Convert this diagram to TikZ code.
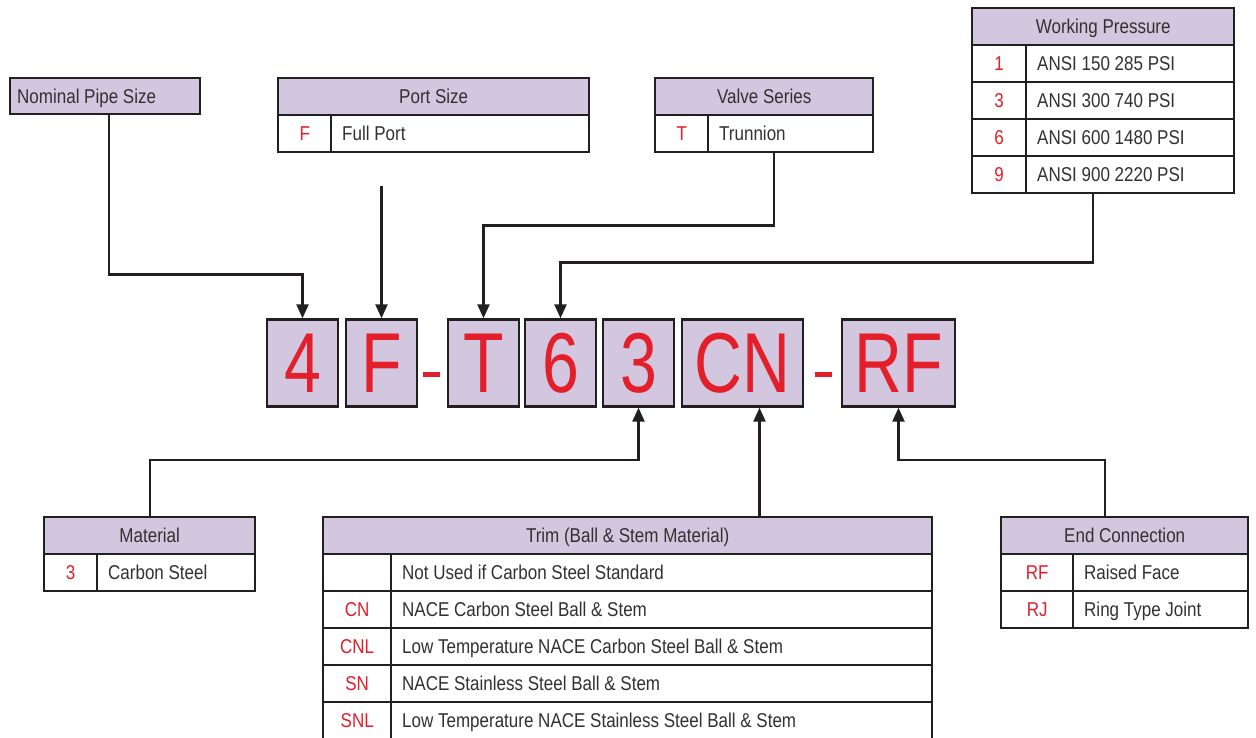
\documentclass[tikz,border=0pt]{standalone}
\usepackage{fontspec}
\setmainfont[FakeStretch=0.85]{Liberation Sans}
\newfontfamily\codefont[FakeStretch=0.78]{Liberation Sans}
\usetikzlibrary{arrows.meta}
\definecolor{lav}{HTML}{D3C7E0}
\definecolor{cred}{HTML}{E21F2A}
\definecolor{ink}{HTML}{231F20}
\definecolor{txt}{HTML}{333031}
\tikzset{
  cell/.style={draw=ink, line width=2.4pt, inner sep=0pt, anchor=north west, minimum height=37pt,
    text height=17pt, text depth=2.7pt, font=\fontsize{20}{20}\selectfont},
  hdr/.style={cell, fill=lav, text=txt},
  keycell/.style={cell, fill=white, text=cred},
  valcell/.style={cell, fill=white, text=txt, inner xsep=11pt, align=flush left},
  codebox/.style={draw=ink, line width=2.4pt, fill=lav, inner sep=0pt, minimum height=87pt,
    text=cred, font=\codefont\fontsize{85}{85}\selectfont},
  dashbar/.style={fill=cred, inner sep=0pt, minimum width=17pt, minimum height=5pt},
  conn/.style={draw=ink, line width=2.4pt, -{Triangle[length=14pt,width=12pt]}}
}
\begin{document}
\begin{tikzpicture}[x=1pt,y=-1pt]
\useasboundingbox (0,0) rectangle (1256,737);
% code boxes
\node[codebox, minimum width=71pt] (c4) at (302.5,363) {4};
\node[codebox, minimum width=71pt] (cF) at (381.5,363) {F};
\node[dashbar] (d1) at (431.5,374) {};
\node[codebox, minimum width=71pt] (cT) at (483.5,363) {T};
\node[codebox, minimum width=71pt] (c6) at (560.5,363) {6};
\node[codebox, minimum width=71pt] (c3) at (638.5,363) {3};
\node[codebox, minimum width=121pt] (cCN) at (742.5,363) {CN};
\node[dashbar] (d2) at (823.5,374) {};
\node[codebox, minimum width=113pt] (cRF) at (898.5,363) {RF};
% Nominal pipe size
\node[hdr, minimum width=190pt, minimum height=36pt, text width=176pt, inner xsep=7pt, align=flush left] (nps) at (9,77) {Nominal Pipe Size};
% Port size
\node[hdr, minimum width=311pt] (psh) at (277,77) {Port Size};
\node[keycell, minimum width=53pt] (psk) at (277,114) {F};
\node[valcell, text width=236pt] (psv) at (330,114) {Full Port};
% Valve series
\node[hdr, minimum width=218pt] (vsh) at (654,77) {Valve Series};
\node[keycell, minimum width=53pt] (vsk) at (654,114) {T};
\node[valcell, text width=143pt] (vsv) at (707,114) {Trunnion};
% Working pressure
\node[hdr, minimum width=262pt] (wph) at (971,7) {Working Pressure};
\node[keycell, minimum width=54pt] (wp1k) at (971,44) {1};
\node[valcell, text width=186pt] (wp1v) at (1025,44) {ANSI 150 285 PSI};
\node[keycell, minimum width=54pt] (wp3k) at (971,81) {3};
\node[valcell, text width=186pt] (wp3v) at (1025,81) {ANSI 300 740 PSI};
\node[keycell, minimum width=54pt] (wp6k) at (971,118) {6};
\node[valcell, text width=186pt] (wp6v) at (1025,118) {ANSI 600 1480 PSI};
\node[keycell, minimum width=54pt] (wp9k) at (971,155) {9};
\node[valcell, text width=186pt] (wp9v) at (1025,155) {ANSI 900 2220 PSI};
% Material
\node[hdr, minimum width=211pt] (math) at (43,516) {Material};
\node[keycell, minimum width=53pt] (matk) at (43,553) {3};
\node[valcell, text width=136pt] (matv) at (96,553) {Carbon Steel};
% Trim
\node[hdr, minimum width=609pt] (trh) at (322,516) {Trim (Ball \& Stem Material)};
\node[keycell, minimum width=68pt] (tr0k) at (322,553) {};
\node[valcell, text width=519pt] (tr0v) at (390,553) {Not Used if Carbon Steel Standard};
\node[keycell, minimum width=68pt] (tr1k) at (322,590) {CN};
\node[valcell, text width=519pt] (tr1v) at (390,590) {NACE Carbon Steel Ball \& Stem};
\node[keycell, minimum width=68pt] (tr2k) at (322,627) {CNL};
\node[valcell, text width=519pt] (tr2v) at (390,627) {Low Temperature NACE Carbon Steel Ball \& Stem};
\node[keycell, minimum width=68pt] (tr3k) at (322,664) {SN};
\node[valcell, text width=519pt] (tr3v) at (390,664) {NACE Stainless Steel Ball \& Stem};
\node[keycell, minimum width=68pt] (tr4k) at (322,701) {SNL};
\node[valcell, text width=519pt] (tr4v) at (390,701) {Low Temperature NACE Stainless Steel Ball \& Stem};
% End connection
\node[hdr, minimum width=247pt] (ech) at (1000,516) {End Connection};
\node[keycell, minimum width=72pt] (ec1k) at (1000,553) {RF};
\node[valcell, text width=153pt] (ec1v) at (1072,553) {Raised Face};
\node[keycell, minimum width=72pt] (ec2k) at (1000,590) {RJ};
\node[valcell, text width=153pt] (ec2v) at (1072,590) {Ring Type Joint};
% connectors
\coordinate (pf) at (381.5,186);
\coordinate (trtip) at ([xshift=17pt]cCN.south);
\draw[conn] ([xshift=4pt]nps.south) -- ++(0,159) -| (c4.north);
\draw[conn] (pf) -- (cF.north);
\draw[conn] ([xshift=10pt]vsh.south |- vsv.south) -- ++(0,72) -| (cT.north);
\draw[conn] ([xshift=-10pt]wph.south |- wp9v.south) -- ++(0,68) -| (c6.north);
\draw[conn] (math.north) -- ++(0,-56) -| (c3.south);
\draw[conn] (trh.north -| trtip) -- (trtip);
\draw[conn] ([xshift=-20pt]ech.north) -- ++(0,-56) -| (cRF.south);
\end{tikzpicture}
\end{document}
